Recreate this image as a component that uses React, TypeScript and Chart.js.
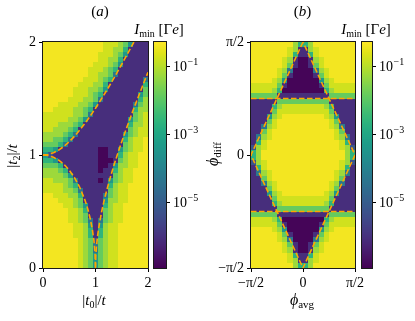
import React, { useEffect, useRef } from "react";
import { Chart, registerables } from "chart.js";

Chart.register(...registerables);

const W = 415;
const H = 321;
const FONT = '"Liberation Serif", "DejaVu Serif", serif';

// ---------------- data ----------------
const T0_RANGE = [0, 2];
const T2_RANGE = [0, 2];
const T0_TICKS = [0, 1, 2];
const T2_TICKS = [0, 1, 2];
const PHI_RANGE = [-1.5708, 1.5708];
const PHI_TICKS = [-1.5708, 0, 1.5708];
const PHI_TICK_LABELS = ["−π/2", "0", "π/2"];
const CB_LOG_RANGE = [-6.93, -0.27];
const CB_TICKS = [1e-5, 1e-3, 1e-1];
const CB_TICK_EXPONENTS = ["−5", "−3", "−1"];
// log10(I_min) for each heat-map level character '0'..'9'
const LEVEL_LOG10 = [-6.85, -6.05, -5.2, -4.3, -3.4, -2.6, -1.85, -1.25, -0.75, -0.38];

// panel (a): dashed boundaries
const UPPER_T0 = [0, 0.1, 0.2, 0.3, 0.4, 0.5, 0.6, 0.7, 0.8, 0.9, 1.0, 1.1, 1.2, 1.3, 1.4, 1.5, 1.6, 1.7, 1.732];
const UPPER_T2 = [1.0, 1.005, 1.02, 1.044, 1.077, 1.118, 1.166, 1.221, 1.281, 1.345, 1.414, 1.487, 1.562, 1.64, 1.72, 1.803, 1.887, 1.972, 2.0];
const CIRCLE_T0 = [0, 0.1, 0.2, 0.3, 0.4, 0.5, 0.6, 0.7, 0.8, 0.85, 0.9, 0.94, 0.97, 0.99, 1.0];
const CIRCLE_T2 = [1.0, 0.995, 0.98, 0.954, 0.917, 0.866, 0.8, 0.714, 0.6, 0.527, 0.436, 0.341, 0.243, 0.141, 0.0];
const RIGHT_T0 = [1.0, 1.005, 1.02, 1.044, 1.077, 1.118, 1.166, 1.221, 1.281, 1.345, 1.414, 1.487, 1.562, 1.64, 1.72, 1.803, 1.887, 1.972, 2.0];
const RIGHT_T2 = [0, 0.1, 0.2, 0.3, 0.4, 0.5, 0.6, 0.7, 0.8, 0.9, 1.0, 1.1, 1.2, 1.3, 1.4, 1.5, 1.6, 1.7, 1.732];

// panel (b): dashed boundaries
const DIAMOND_AVG = [0, -1.5708, 0, 1.5708, 0];
const DIAMOND_DIFF = [1.5708, 0, -1.5708, 0, 1.5708];
const HLINE_AVG = [-1.5708, 1.5708];
const HLINE_TOP = [0.7854, 0.7854];
const HLINE_BOTTOM = [-0.7854, -0.7854];

// panel (a) heat map: rows from |t2|=2 (top) to 0, columns |t0|=0..2
const GRID_A = [
  "999999999999888764111",
  "999999999999887751111",
  "999999999998887641111",
  "999999999998877511111",
  "999999999988876411111",
  "999999999888765111111",
  "999999999887763111111",
  "999999998887651111113",
  "999999988877511111115",
  "999999888776411111116",
  "999999888765111111146",
  "999998887763111111157",
  "999888877641111111367",
  "998888776511111111577",
  "888888776311111111678",
  "888887764111111114678",
  "888777651111111115778",
  "887776511111111116788",
  "777765311111111146788",
  "776653111111111157889",
  "666531111111111167889",
  "554111111110011467889",
  "421111111110011578899",
  "554111111110001678899",
  "666511111110014778899",
  "777651111110115788999",
  "777764111111116788999",
  "887776311110146788999",
  "888876511111157889999",
  "888877631111167889999",
  "998887751111367889999",
  "999888761111477889999",
  "999988764111578899999",
  "999998875111678899999",
  "999998876111678899999",
  "999998876313678899999",
  "999999887414788999999",
  "999999887515788999999",
  "999999887515788999999",
  "999999987626788999999",
  "999999987636788999999",
  "999999987636788999999",
  "999999987646788999999",
  "999999987646788999999",
  "999999987646788999999",
];

// panel (b) heat map: rows from phi_diff=pi/2 (top) to -pi/2, columns phi_avg=-pi/2..pi/2
const GRID_B = [
  "99999999755799999999",
  "99999998711789999999",
  "99999998511589999999",
  "99999987100178999999",
  "99999986100168999999",
  "99999873000037899999",
  "99999861000016899999",
  "99998740000004789999",
  "88888610000001688888",
  "88887500000000578888",
  "66666111111111166666",
  "11111666666666611111",
  "11115788888888751111",
  "11116888888888861111",
  "11147899999999874111",
  "11168999999999986111",
  "11378999999999987311",
  "11689999999999998611",
  "13789999999999998731",
  "15899999999999999851",
  "27899999999999999872",
  "57999999999999999975",
  "57999999999999999975",
  "27899999999999999872",
  "15899999999999999851",
  "13789999999999998731",
  "11689999999999998611",
  "11378999999999987311",
  "11168999999999986111",
  "11147899999999874111",
  "11116888888888861111",
  "11115788888888751111",
  "11111666666666611111",
  "66666111111111166666",
  "88887500000000578888",
  "88888610000001688888",
  "99998740000004789999",
  "99999861000016899999",
  "99999873000037899999",
  "99999986100168999999",
  "99999987100178999999",
  "99999998511589999999",
  "99999998711789999999",
  "99999999755799999999",
];

// ---------------- colour map ----------------
const VIRIDIS = [
  "#440154", "#471365", "#482475", "#463480", "#414487", "#3b528b", "#355f8d",
  "#2f6c8e", "#2a788e", "#25848e", "#21918c", "#1e9c89", "#22a884", "#2fb47c",
  "#44bf70", "#5ec962", "#7ad151", "#9bd93c", "#bddf26", "#dfe318", "#fde725",
];
const VIR_RGB = VIRIDIS.map((h) => [
  parseInt(h.slice(1, 3), 16),
  parseInt(h.slice(3, 5), 16),
  parseInt(h.slice(5, 7), 16),
]);
function viridis(t: number): string {
  const tt = Math.max(0, Math.min(1, t)) * (VIR_RGB.length - 1);
  const i = Math.min(VIR_RGB.length - 2, Math.floor(tt));
  const f = tt - i;
  const a = VIR_RGB[i];
  const b = VIR_RGB[i + 1];
  const c = [0, 1, 2].map((k) => Math.round(a[k] + (b[k] - a[k]) * f));
  return `rgb(${c[0]},${c[1]},${c[2]})`;
}
function colorForLog(lg: number): string {
  return viridis((lg - CB_LOG_RANGE[0]) / (CB_LOG_RANGE[1] - CB_LOG_RANGE[0]));
}

// ---------------- rich text helper ----------------
type Seg = { t: string; it?: boolean; s?: number; dy?: number };
function drawRich(ctx: CanvasRenderingContext2D, segs: Seg[], x: number, y: number, base: number, rot = 0) {
  ctx.save();
  ctx.translate(x, y);
  if (rot) ctx.rotate(rot);
  ctx.textBaseline = "alphabetic";
  ctx.textAlign = "left";
  ctx.fillStyle = "#000";
  const fontOf = (sg: Seg) => `${sg.it ? "italic " : ""}${sg.s ?? base}px ${FONT}`;
  let total = 0;
  const ws: number[] = [];
  for (const sg of segs) {
    ctx.font = fontOf(sg);
    const w = ctx.measureText(sg.t).width;
    ws.push(w);
    total += w;
  }
  let cx = -total / 2;
  segs.forEach((sg, i) => {
    ctx.font = fontOf(sg);
    ctx.fillText(sg.t, cx, sg.dy ?? 0);
    cx += ws[i];
  });
  ctx.restore();
}

// ---------------- plugins ----------------
function heatmapPlugin(grid: string[], xr: number[], yr: number[]) {
  return {
    id: "heatmap",
    beforeDatasetsDraw(chart: any) {
      const { ctx } = chart;
      const xs = chart.scales.x;
      const ys = chart.scales.y;
      const nR = grid.length;
      const nC = grid[0].length;
      const dx = (xr[1] - xr[0]) / nC;
      const dy = (yr[1] - yr[0]) / nR;
      ctx.save();
      for (let r = 0; r < nR; r++) {
        for (let c = 0; c < nC; c++) {
          const ch = grid[r][c] ?? "1";
          const lv = LEVEL_LOG10[parseInt(ch, 10)] ?? LEVEL_LOG10[1];
          const px0 = Math.round(xs.getPixelForValue(xr[0] + c * dx));
          const px1 = Math.round(xs.getPixelForValue(xr[0] + (c + 1) * dx));
          const py0 = Math.round(ys.getPixelForValue(yr[1] - r * dy));
          const py1 = Math.round(ys.getPixelForValue(yr[1] - (r + 1) * dy));
          ctx.fillStyle = colorForLog(lv);
          ctx.fillRect(px0, py0, px1 - px0, py1 - py0);
        }
      }
      ctx.restore();
    },
    afterDatasetsDraw(chart: any) {
      const { ctx, chartArea: a } = chart;
      ctx.save();
      ctx.strokeStyle = "#1a1a1a";
      ctx.lineWidth = 1;
      ctx.strokeRect(Math.round(a.left) - 0.5, Math.round(a.top) - 0.5, Math.round(a.right - a.left) + 1, Math.round(a.bottom - a.top) + 1);
      ctx.restore();
    },
  };
}

function labelsPlugin(draw: (ctx: CanvasRenderingContext2D, a: any) => void) {
  return {
    id: "labels",
    afterDraw(chart: any) {
      draw(chart.ctx, chart.chartArea);
    },
  };
}

function colorbarPlugin(titleX: number) {
  return {
    id: "colorbar",
    beforeDatasetsDraw(chart: any) {
      const { ctx, chartArea: a } = chart;
      const ys = chart.scales.y;
      ctx.save();
      for (let py = Math.floor(a.top); py < Math.ceil(a.bottom); py++) {
        const v = ys.getValueForPixel(py + 0.5);
        ctx.fillStyle = colorForLog(Math.log10(v));
        ctx.fillRect(a.left, py, a.right - a.left, 1);
      }
      ctx.restore();
    },
    afterDraw(chart: any) {
      const { ctx, chartArea: a } = chart;
      const ys = chart.scales.y;
      ctx.save();
      ctx.strokeStyle = "#1a1a1a";
      ctx.lineWidth = 1;
      ctx.strokeRect(Math.round(a.left) - 0.5, Math.round(a.top) - 0.5, Math.round(a.right - a.left) + 1, Math.round(a.bottom - a.top) + 1);
      ctx.fillStyle = "#000";
      CB_TICKS.forEach((v, i) => {
        const py = ys.getPixelForValue(v);
        const x0 = a.right + 7;
        ctx.textBaseline = "middle";
        ctx.textAlign = "left";
        ctx.font = `14px ${FONT}`;
        ctx.fillText("10", x0, py + 1);
        const w = ctx.measureText("10").width;
        ctx.font = `10px ${FONT}`;
        ctx.fillText(CB_TICK_EXPONENTS[i], x0 + w + 0.5, py - 4);
      });
      ctx.restore();
      drawRich(
        ctx,
        [
          { t: "I", it: true },
          { t: "min", s: 10, dy: 3 },
          { t: " [Γ" },
          { t: "e", it: true },
          { t: "]" },
        ],
        titleX,
        33.5,
        15
      );
    },
  };
}

// ---------------- chart builders ----------------
function lineDataset(xs: number[], ys: number[]) {
  return {
    data: xs.map((x, i) => ({ x, y: ys[i] })),
    showLine: true,
    borderColor: "#ffa500",
    backgroundColor: "#ffa500",
    borderWidth: 1.6,
    borderDash: [5.5, 2.5],
    pointRadius: 0,
    pointHoverRadius: 0,
    fill: false,
    tension: 0,
  };
}

function linAxis(pos: string, range: number[], ticks: number[], labels: string[] | null, size: number) {
  return {
    type: "linear",
    position: pos,
    min: range[0],
    max: range[1],
    afterBuildTicks: (s: any) => {
      s.ticks = ticks.map((v) => ({ value: v }));
    },
    afterFit: (s: any) => {
      if (pos === "left") s.width = size;
      else s.height = size;
    },
    ticks: {
      color: "#000",
      font: { family: FONT, size: 14 },
      padding: 3,
      autoSkip: false,
      maxRotation: 0,
      callback: (v: number, i: number) => (labels ? labels[i] : String(v)),
    },
    grid: { drawOnChartArea: false, drawTicks: true, tickLength: 4, tickColor: "#000", tickWidth: 1, color: "#000" },
    border: { display: false },
  };
}

function mainConfig(
  datasets: any[],
  grid: string[],
  xr: number[],
  yr: number[],
  xTicks: number[],
  yTicks: number[],
  labels: string[] | null,
  left: number,
  right: number,
  draw: (ctx: CanvasRenderingContext2D, a: any) => void
) {
  return {
    type: "scatter",
    data: { datasets },
    options: {
      animation: false,
      responsive: false,
      events: [],
      layout: { autoPadding: false, padding: { left: left - 43, right: W - right, top: 42, bottom: H - 268 - 30 } },
      plugins: { legend: { display: false }, tooltip: { enabled: false }, title: { display: false } },
      scales: {
        x: linAxis("bottom", xr, xTicks, labels, 30),
        y: linAxis("left", yr, yTicks, labels, 43),
      },
    },
    plugins: [heatmapPlugin(grid, xr, yr), labelsPlugin(draw)],
  };
}

function colorbarConfig(left: number, right: number, titleX: number) {
  return {
    type: "scatter",
    data: { datasets: [] },
    options: {
      animation: false,
      responsive: false,
      events: [],
      layout: { autoPadding: false, padding: { left, right: W - right - 40, top: 42, bottom: H - 268 } },
      plugins: { legend: { display: false }, tooltip: { enabled: false } },
      scales: {
        x: { type: "linear", display: false, min: 0, max: 1 },
        y: {
          type: "logarithmic",
          position: "right",
          min: Math.pow(10, CB_LOG_RANGE[0]),
          max: Math.pow(10, CB_LOG_RANGE[1]),
          afterBuildTicks: (s: any) => {
            s.ticks = CB_TICKS.map((v) => ({ value: v }));
          },
          afterFit: (s: any) => {
            s.width = 40;
          },
          ticks: { display: false },
          grid: { drawOnChartArea: false, drawTicks: true, tickLength: 4, tickColor: "#000", tickWidth: 1, color: "#000" },
          border: { display: false },
        },
      },
    },
    plugins: [colorbarPlugin(titleX)],
  };
}

export default function App() {
  const refA = useRef<HTMLCanvasElement>(null);
  const refCA = useRef<HTMLCanvasElement>(null);
  const refB = useRef<HTMLCanvasElement>(null);
  const refCB = useRef<HTMLCanvasElement>(null);

  useEffect(() => {
    const charts: Chart[] = [];
    const cfgA = mainConfig(
      [lineDataset(UPPER_T0, UPPER_T2), lineDataset(CIRCLE_T0, CIRCLE_T2), lineDataset(RIGHT_T0, RIGHT_T2)],
      GRID_A,
      T0_RANGE,
      T2_RANGE,
      T0_TICKS,
      T2_TICKS,
      null,
      43,
      148,
      (ctx) => {
        drawRich(ctx, [{ t: "(" }, { t: "a", it: true }, { t: ")" }], 100, 15.5, 15);
        drawRich(
          ctx,
          [{ t: "|" }, { t: "t", it: true }, { t: "2", s: 10, dy: 3 }, { t: "|/" }, { t: "t", it: true }],
          17,
          156,
          15,
          -Math.PI / 2
        );
        drawRich(
          ctx,
          [{ t: "|" }, { t: "t", it: true }, { t: "0", s: 10, dy: 3 }, { t: "|/" }, { t: "t", it: true }],
          94,
          305,
          15
        );
      }
    );
    const cfgB = mainConfig(
      [lineDataset(DIAMOND_AVG, DIAMOND_DIFF), lineDataset(HLINE_AVG, HLINE_TOP), lineDataset(HLINE_AVG, HLINE_BOTTOM)],
      GRID_B,
      PHI_RANGE,
      PHI_RANGE,
      PHI_TICKS,
      PHI_TICKS,
      PHI_TICK_LABELS,
      251,
      355,
      (ctx) => {
        drawRich(ctx, [{ t: "(" }, { t: "b", it: true }, { t: ")" }], 302.5, 15.5, 15);
        drawRich(ctx, [{ t: "ϕ", it: true }, { t: "diff", s: 11, dy: 3 }], 217.5, 154, 16, -Math.PI / 2);
        drawRich(ctx, [{ t: "ϕ", it: true }, { t: "avg", s: 11, dy: 3 }], 302, 305, 16);
      }
    );
    charts.push(new Chart(refA.current as HTMLCanvasElement, cfgA as any));
    charts.push(new Chart(refCA.current as HTMLCanvasElement, colorbarConfig(154, 166, 159) as any));
    charts.push(new Chart(refB.current as HTMLCanvasElement, cfgB as any));
    charts.push(new Chart(refCB.current as HTMLCanvasElement, colorbarConfig(362, 372, 366) as any));
    return () => charts.forEach((c) => c.destroy());
  }, []);

  const cs: React.CSSProperties = { position: "absolute", left: 0, top: 0, width: W, height: H };
  return (
    <div style={{ position: "fixed", left: 0, top: 0, width: W, height: H, background: "#fff" }}>
      <canvas ref={refA} width={W} height={H} style={cs} />
      <canvas ref={refCA} width={W} height={H} style={cs} />
      <canvas ref={refB} width={W} height={H} style={cs} />
      <canvas ref={refCB} width={W} height={H} style={cs} />
    </div>
  );
}
